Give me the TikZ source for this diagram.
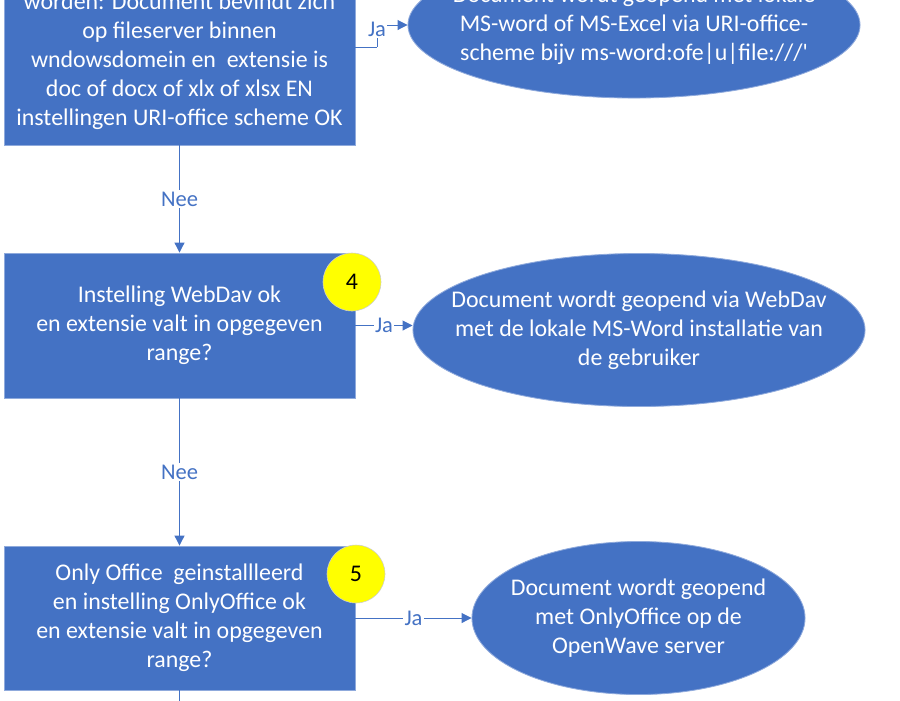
\documentclass[tikz,border=0pt]{standalone}
\usepackage{fontspec}
\setmainfont{Carlito}
\usepackage{tikz}
\usetikzlibrary{shapes.geometric, arrows.meta, positioning, calc}
\definecolor{vlblue}{RGB}{68,114,196}
\definecolor{vlrand}{RGB}{143,170,220}
\definecolor{vlgeel}{RGB}{255,255,0}
\definecolor{vlgrijs}{RGB}{205,205,205}
\tikzset{
  vraag/.style={rectangle, draw=vlrand, fill=vlblue, text=white,
    minimum width=8.775cm, align=center, inner sep=2pt,
    font=\fontsize{17}{20.6}\selectfont, line width=0.6pt},
  uitkomst/.style={ellipse, draw=vlrand, fill=vlblue, text=white,
    align=center, inner sep=-8mm,
    font=\fontsize{17}{20.6}\selectfont, line width=0.6pt},
  nummer/.style={circle, draw=vlgrijs, fill=vlgeel, minimum size=1.45cm,
    inner sep=0pt, font=\fontsize{17}{20.6}\selectfont, line width=0.4pt},
  keuze/.style={fill=white, text=vlblue, inner sep=1pt,
    font=\fontsize{16}{19}\selectfont},
  pijl/.style={-{Triangle[length=7pt, width=7pt]}, color=vlblue, line width=0.7pt},
  lijn/.style={color=vlblue, line width=0.7pt}
}

\begin{document}
\begin{tikzpicture}[x=0.025cm, y=-0.025cm]
  \useasboundingbox (0,0) rectangle (900,700);

  % Vraag: URI-office scheme (bovenste blok, deels buiten beeld)
  \node[vraag, minimum height=4.9cm] (vraagUri) at (179.5,47)
    {\vphantom{worden}\\worden: Document bevindt zich\\op fileserver binnen\\wndowsdomein en\ \ extensie is\\doc of docx of xlx of xlsx EN\\instellingen URI-office scheme OK};
  \node[uitkomst, minimum width=11.3cm, minimum height=3.65cm] (lokaal) at (634,25)
    {Document wordt geopend met lokale\\MS-word of MS-Excel via URI-office-\\scheme bijv ms-word:ofe|u|file:///\textquotesingle};

  % Vraag 4: WebDav
  \node[vraag, minimum height=3.625cm] (vraagWebdav) at (179.5,325.5)
    {Instelling WebDav ok\\en extensie valt in opgegeven\\range?};
  \node[nummer] (nr4) at (352,282) {4};
  \node[uitkomst, minimum width=11.3cm, minimum height=3.825cm] (webdav) at (639,330)
    {Document wordt geopend via WebDav\\met de lokale MS-Word installatie van\\de gebruiker};

  % Vraag 5: OnlyOffice
  \node[vraag, minimum height=3.6cm] (vraagOnly) at (179.5,618)
    {Only Office\ \ geinstallleerd\\en instelling OnlyOffice ok\\en extensie valt in opgegeven\\range?};
  \node[nummer] (nr5) at (356,574) {5};
  \node[uitkomst, minimum width=8.325cm, minimum height=3.825cm] (onlyoffice) at (638.5,618)
    {Document wordt geopend\\met OnlyOffice op de\\OpenWave server};

  % Ja-takken
  \coordinate (knik) at (377,47);
  \draw[lijn] (vraagUri.east) -- (knik);
  \draw[pijl] (knik) |- node[keuze, pos=0.4] {Ja} (lokaal.west);
  \draw[pijl] (vraagWebdav.east) -- node[keuze] {Ja} (vraagWebdav.east -| webdav.west);
  \draw[pijl] (vraagOnly.east) -- node[keuze] {Ja} (onlyoffice.west);

  % Nee-takken
  \draw[pijl] (vraagUri) -- node[keuze] {Nee} (vraagWebdav);
  \draw[pijl] (vraagWebdav) -- node[keuze] {Nee} (vraagOnly);
  \coordinate (verder) at (179.5,740);
  \draw[pijl] (vraagOnly) -- (verder);
\end{tikzpicture}
\end{document}
